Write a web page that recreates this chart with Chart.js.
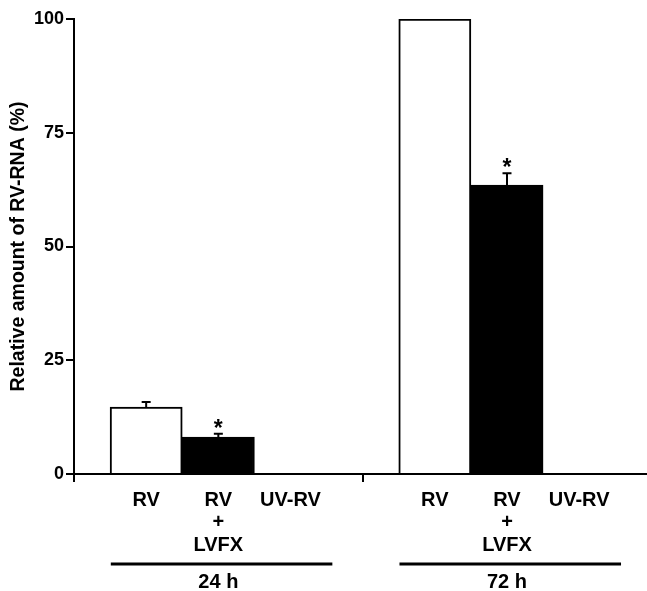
<!DOCTYPE html>
<html>
<head>
<meta charset="utf-8">
<script src="https://cdn.jsdelivr.net/npm/chart.js@4.4.1/dist/chart.umd.min.js"></script>
<style>
  html, body { margin: 0; padding: 0; background: #fff; }
  #wrap { width: 647px; height: 591px; }
</style>
</head>
<body>
<div id="wrap"><canvas id="c" width="647" height="591"></canvas></div>
<script>
// ---- data ----
const groups = ['24 h', '72 h'];
const categories = ['RV', ['RV', '+', 'LVFX'], 'UV-RV'];
const values24 = [14.7, 8.1, 0];
const values72 = [100, 63.5, 0];
const errors24 = [1.1, 0.75, 0];
const errors72 = [0, 2.6, 0];
const significant24 = [false, true, false];
const significant72 = [false, true, false];
const yTicks = [0, 25, 50, 75, 100];
const yTitle = 'Relative amount of RV-RNA (%)';

// ---- build ----
const FONT = '"Liberation Sans", Arial, Helvetica, sans-serif';
const groupValues = [values24, values72];
const groupErrors = [errors24, errors72];
const groupSig = [significant24, significant72];
const slotOf = (g, c) => 1 + g * (categories.length + 1) + c;

const points = [], colors = [], errs = [], sigs = [];
groupValues.forEach((vals, g) => {
  vals.forEach((v, c) => {
    points.push({ x: slotOf(g, c), y: v });
    colors.push(c === 1 ? '#000' : '#fff');
    errs.push(groupErrors[g][c]);
    sigs.push(groupSig[g][c]);
  });
});

const labelAt = {};
groups.forEach((_, g) => categories.forEach((lab, c) => { labelAt[slotOf(g, c)] = lab; }));
const separatorSlot = categories.length + 1;

const extras = {
  id: 'extras',
  afterDatasetsDraw(chart) {
    const ctx = chart.ctx;
    const xs = chart.scales.x, ys = chart.scales.y;
    ctx.save();
    ctx.strokeStyle = '#000';
    ctx.fillStyle = '#000';
    ctx.lineWidth = 2;
    points.forEach((p, i) => {
      const px = xs.getPixelForValue(p.x);
      const top = p.y + errs[i];
      if (errs[i] > 0) {
        const y0 = ys.getPixelForValue(p.y);
        const y1 = ys.getPixelForValue(top);
        ctx.beginPath();
        ctx.moveTo(px, y0); ctx.lineTo(px, y1);
        ctx.moveTo(px - 4.5, y1); ctx.lineTo(px + 4.5, y1);
        ctx.stroke();
      }
      if (sigs[i]) {
        ctx.font = 'bold 23px ' + FONT;
        ctx.textAlign = 'center';
        ctx.textBaseline = 'alphabetic';
        ctx.fillText('*', px, ys.getPixelForValue(top) + 2);
      }
    });
    // group lines and labels
    groups.forEach((name, g) => {
      const first = slotOf(g, 0), last = slotOf(g, categories.length - 1);
      const mid = slotOf(g, 1);
      const x0 = xs.getPixelForValue(first - 0.49);
      const x1 = xs.getPixelForValue(last + 0.58);
      ctx.lineWidth = 3;
      ctx.beginPath();
      ctx.moveTo(x0, 564); ctx.lineTo(x1, 564);
      ctx.stroke();
      ctx.font = 'bold 20px ' + FONT;
      ctx.textAlign = 'center';
      ctx.textBaseline = 'alphabetic';
      ctx.fillText(name, xs.getPixelForValue(mid), 588);
    });
    ctx.restore();
  }
};

new Chart(document.getElementById('c'), {
  type: 'bar',
  data: {
    datasets: [{
      data: points,
      backgroundColor: colors,
      borderColor: '#000',
      borderWidth: 2,
      categoryPercentage: 1,
      barPercentage: 1
    }]
  },
  options: {
    responsive: false,
    animation: false,
    layout: { padding: { top: 19, right: 0, bottom: 0, left: 0 } },
    plugins: { legend: { display: false }, tooltip: { enabled: false } },
    scales: {
      x: {
        type: 'linear',
        offset: false,
        min: 0,
        max: 7.94,
        afterFit(s) { s.height = 117; },
        afterBuildTicks(s) {
          const t = [];
          for (let v = 0; v <= slotOf(groups.length - 1, categories.length - 1); v++) t.push({ value: v });
          s.ticks = t;
        },
        ticks: {
          autoSkip: false,
          maxRotation: 0,
          padding: 7,
          color: '#000',
          font: { family: FONT, size: 20, weight: 'bold', lineHeight: 1.125 },
          callback: (v) => labelAt[v] !== undefined ? labelAt[v] : ''
        },
        grid: {
          offset: false,
          drawOnChartArea: false,
          drawTicks: true,
          tickLength: 8,
          lineWidth: 2,
          color: (c) => (c.tick && (c.tick.value === 0 || c.tick.value === separatorSlot)) ? '#000' : 'rgba(0,0,0,0)'
        },
        border: { display: true, color: '#000', width: 2 }
      },
      y: {
        min: 0,
        max: 100,
        afterFit(s) { s.width = 74; },
        afterBuildTicks(s) { s.ticks = yTicks.map(v => ({ value: v })); },
        ticks: {
          padding: 2,
          color: '#000',
          font: { family: FONT, size: 18, weight: 'bold' }
        },
        grid: {
          drawOnChartArea: false,
          drawTicks: true,
          tickLength: 8,
          lineWidth: 2,
          color: '#000'
        },
        border: { display: true, color: '#000', width: 2 },
        title: {
          display: true,
          text: yTitle,
          color: '#000',
          padding: { top: 7, bottom: 0 },
          font: { family: FONT, size: 19.5, weight: 'bold' }
        }
      }
    }
  },
  plugins: [extras]
});
</script>
</body>
</html>
